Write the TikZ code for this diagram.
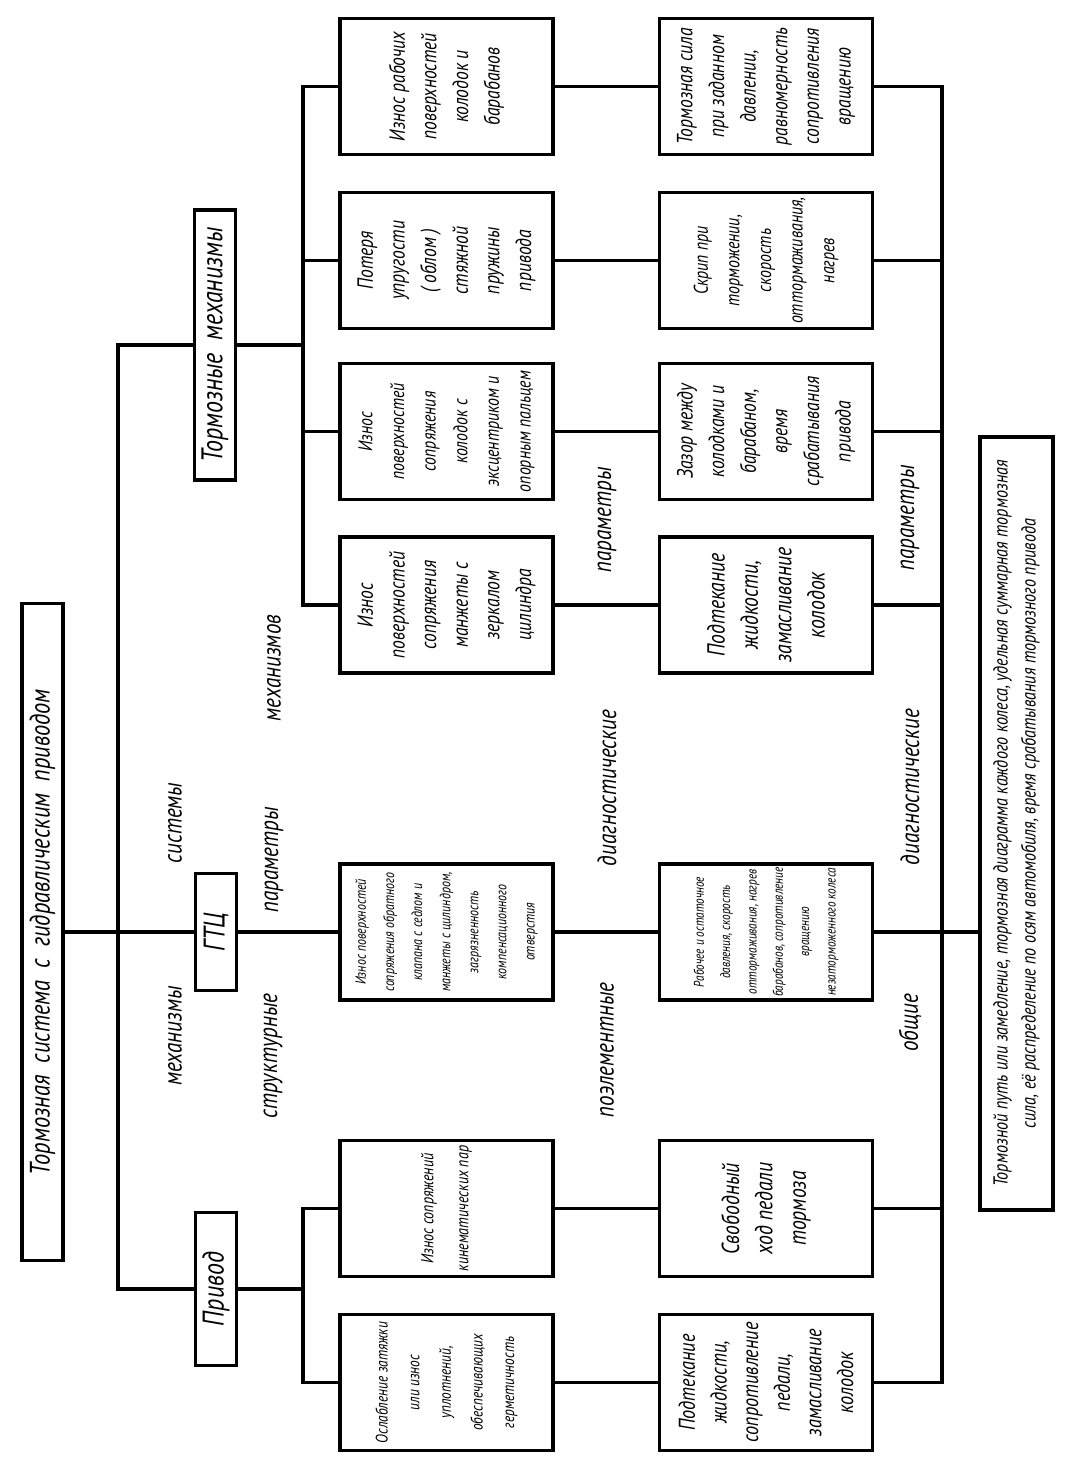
\documentclass[tikz,border=0pt]{standalone}
\usepackage{fontspec}
\setmainfont{PT Sans}[FakeStretch=0.8]
\usetikzlibrary{calc}

\begin{document}
\begin{tikzpicture}[x=0.2mm,y=-0.2mm,line width=1.9pt,
  box/.style={draw,rotate=90,minimum width=27.2mm,minimum height=42.6mm,inner sep=1pt,align=center,font=\itshape\fontsize{12.5}{18}\selectfont},
  lvlbox/.style={draw,rotate=90,minimum height=8.2mm,inner sep=1pt,font=\itshape\fontsize{17}{20}\selectfont},
  lbl/.style={rotate=90,inner sep=0pt,font=\itshape\fontsize{15}{18}\selectfont}]
\useasboundingbox (0,0) rectangle (1069,1469);
\coordinate (busA) at (118,0);
\coordinate (busB) at (303,0);
\coordinate (busC) at (942,0);
\node[lvlbox,minimum width=131.4mm,font=\itshape\fontsize{16}{20}\selectfont] (title) at (42.5,932) {Тормозная\ \ система\ \ с\ \ гидравлическим\ \ приводом};
\node[lvlbox,minimum width=54mm] (tm) at (215,345) {Тормозные\ \ механизмы};
\node[lvlbox,minimum width=23.4mm] (gtc) at (216,932) {ГТЦ};
\node[lvlbox,minimum width=30.6mm] (priv) at (216,1289) {Привод};
% structural parameters
\node[box] (s1) at (446.5,86.5) {Износ рабочих\\поверхностей\\колодок и\\барабанов};
\node[box] (s2) at (446.5,260.5) {Потеря\\упругости\\( облом )\\стяжной\\пружины\\привода};
\node[box,font=\itshape\fontsize{11.3}{18}\selectfont] (s3) at (446.5,431.5) {Износ\\поверхностей\\сопряжения\\колодок с\\эксцентриком и\\опорным пальцем};
\node[box] (s4) at (446.5,605) {Износ\\поверхностей\\сопряжения\\манжеты с\\зеркалом\\цилиндра};
\node[box,font=\itshape\fontsize{8.5}{16}\selectfont] (s5) at (446.5,932) {Износ поверхностей\\сопряжения обратного\\клапана с седлом и\\манжеты с цилиндром,\\загрязненность\\компенсационного\\отверстия};
\node[box,font=\itshape\fontsize{10}{20}\selectfont] (s6) at (446.5,1208.5) {Износ сопряжений\\кинематических пар};
\node[box,font=\itshape\fontsize{9.5}{18}\selectfont] (s7) at (446.5,1382.5) {Ослабление затяжки\\или износ\\уплотнений,\\обеспечивающих\\герметичность};
% diagnostic parameters
\node[box] (d1) at (766,86.5) {Тормозная сила\\при заданном\\давлении,\\равномерность\\сопротивления\\вращению};
\node[box,font=\itshape\fontsize{11.3}{18}\selectfont] (d2) at (766,260.5) {Скрип при\\торможении,\\скорость\\оттормаживания,\\нагрев};
\node[box] (d3) at (766,431.5) {Зазор между\\колодками и\\барабаном,\\время\\срабатывания\\привода};
\node[box,font=\itshape\fontsize{14}{19}\selectfont] (d4) at (766,605) {Подтекание\\жидкости,\\замасливание\\колодок};
\node[box,font=\itshape\fontsize{8}{15}\selectfont] (d5) at (766,932) {Рабочее и остаточное\\давления, скорость\\оттормаживания, нагрев\\барабанов, сопротивление\\вращению\\незаторможенного колеса};
\node[box,font=\itshape\fontsize{14}{19}\selectfont] (d6) at (766,1208.5) {Свободный\\ход педали\\тормоза};
\node[box,font=\itshape\fontsize{13}{18}\selectfont] (d7) at (766,1382.5) {Подтекание\\жидкости,\\сопротивление\\педали,\\замасливание\\колодок};
\node[box,minimum width=154.6mm,minimum height=14.6mm,font=\itshape\fontsize{11.5}{16}\selectfont] (common) at (1016.5,823.5) {Тормозной путь или замедление, тормозная диаграмма каждого колеса, удельная суммарная тормозная\\сила, её распределение по осям автомобиля, время срабатывания тормозного привода};
% labels
\node[lbl] (l1) at (175,1036) {механизмы};
\node[lbl] (l2) at (175,823) {системы};
\node[lbl] (l3) at (273,1056) {структурные};
\node[lbl] (l4) at (274,860) {параметры};
\node[lbl] (l5) at (274,668) {механизмов};
\node[lbl] (l6) at (607,520) {параметры};
\node[lbl] (l7) at (607,788) {диагностические};
\node[lbl] (l8) at (607,1050) {поэлементные};
\node[lbl] (l9) at (910,518) {параметры};
\node[lbl] (l10) at (910,787) {диагностические};
\node[lbl] (l11) at (910,1023) {общие};
% connectors
\draw (title.south) -- (gtc.north);
\draw (tm.north) -| (busA |- priv.north) -- (priv.north);
\draw (tm.south) -- (tm.south -| busB);
\draw (s1.north) -| (busB |- s4.north) -- (s4.north);
\draw (s2.north) -- (s2.north -| busB);
\draw (s3.north) -- (s3.north -| busB);
\draw (gtc.south) -- (s5.north);
\draw (priv.south) -- (priv.south -| busB);
\draw (s6.north) -| (busB |- s7.north) -- (s7.north);
\foreach \i in {1,...,7}
  \draw (s\i.south) -- (d\i.north);
\draw (d1.south) -| (busC |- d7.south) -- (d7.south);
\foreach \i in {2,...,6}
  \draw (d\i.south) -- (d\i.south -| busC);
\draw (busC |- d5.south) -- (common.north |- d5.south);
\end{tikzpicture}
\end{document}
